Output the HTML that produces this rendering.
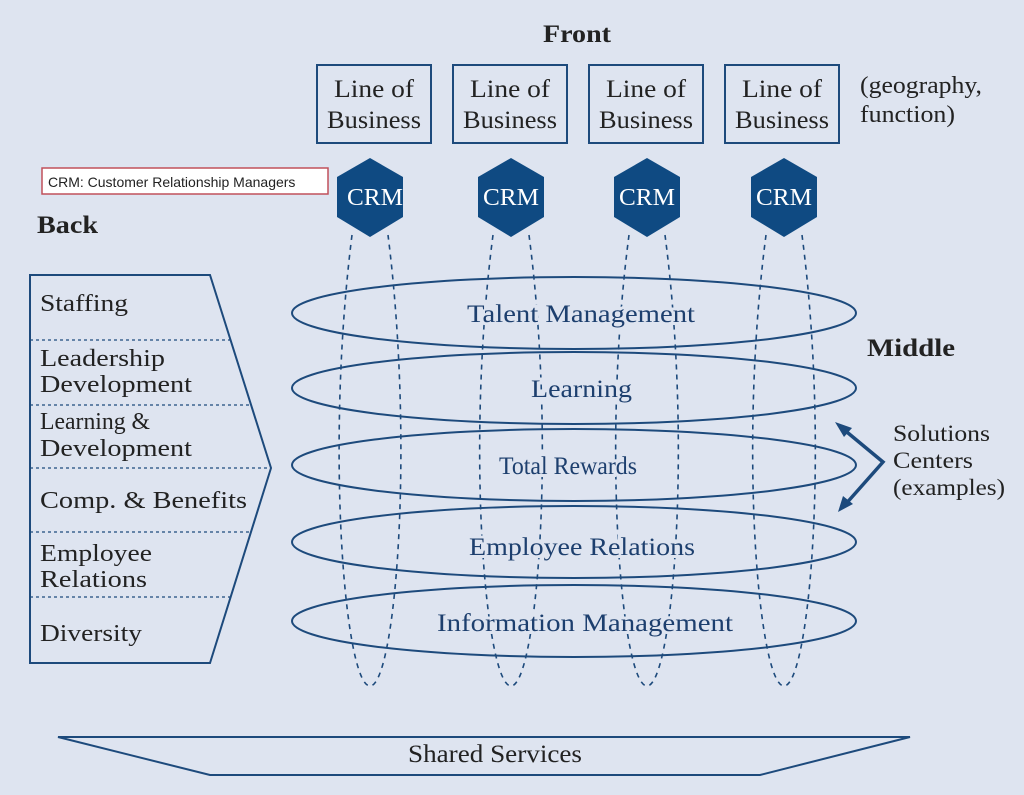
<!DOCTYPE html>
<html><head><meta charset="utf-8"><style>
html,body{margin:0;padding:0;background:#dee4f0;}
svg{display:block}
.t{font-family:"Liberation Serif",serif;fill:#1d3f6e;stroke:#dee4f0;stroke-width:6;paint-order:stroke;}
.k{font-family:"Liberation Serif",serif;fill:#222;}
</style></head><body>
<svg width="1024" height="795" viewBox="0 0 1024 795" xmlns="http://www.w3.org/2000/svg">
<rect width="1024" height="795" fill="#dee4f0"/>
<text x="543" y="42" class="k" font-size="25" font-weight="bold" textLength="68" lengthAdjust="spacingAndGlyphs">Front</text>
<text x="37" y="233" class="k" font-size="25" font-weight="bold" textLength="61" lengthAdjust="spacingAndGlyphs">Back</text>
<text x="867" y="356" class="k" font-size="25" font-weight="bold" textLength="88" lengthAdjust="spacingAndGlyphs">Middle</text>
<g fill="none" stroke="#1d4a7c" stroke-width="2">
<rect x="317" y="65" width="114" height="78"/><rect x="453" y="65" width="114" height="78"/>
<rect x="589" y="65" width="114" height="78"/><rect x="725" y="65" width="114" height="78"/>
</g>
<g class="k" font-size="25">
<text x="334" y="97" textLength="80" lengthAdjust="spacingAndGlyphs">Line of</text><text x="327" y="128" textLength="94" lengthAdjust="spacingAndGlyphs">Business</text>
<text x="470" y="97" textLength="80" lengthAdjust="spacingAndGlyphs">Line of</text><text x="463" y="128" textLength="94" lengthAdjust="spacingAndGlyphs">Business</text>
<text x="606" y="97" textLength="80" lengthAdjust="spacingAndGlyphs">Line of</text><text x="599" y="128" textLength="94" lengthAdjust="spacingAndGlyphs">Business</text>
<text x="742" y="97" textLength="80" lengthAdjust="spacingAndGlyphs">Line of</text><text x="735" y="128" textLength="94" lengthAdjust="spacingAndGlyphs">Business</text>
</g>
<text x="860" y="93" class="k" font-size="24" textLength="122" lengthAdjust="spacingAndGlyphs">(geography,</text>
<text x="860" y="122" class="k" font-size="24" textLength="95" lengthAdjust="spacingAndGlyphs">function)</text>
<rect x="42" y="168" width="286" height="26" fill="#fff" stroke="#c0505a" stroke-width="1.5"/>
<text x="48" y="187" font-family="Liberation Sans,sans-serif" font-size="14" fill="#222">CRM: Customer Relationship Managers</text>
<g fill="none" stroke="#1d4a7c" stroke-width="1.6" stroke-dasharray="5,5">
<path d="M352,235 C325,450 345,686 370,686 C395,686 415,450 388,235"/>
<path d="M493,235 C465,450 486,686 511,686 C536,686 557,450 529,235"/>
<path d="M629,235 C601,450 622,686 647,686 C672,686 693,450 665,235"/>
<path d="M766,235 C738,450 759,686 784,686 C809,686 830,450 802,235"/>
</g>
<g fill="#0f4a82">
<polygon points="370,158 403,177 403,217 370,237 337,217 337,177"/>
<polygon points="511,158 544,177 544,217 511,237 478,217 478,177"/>
<polygon points="647,158 680,177 680,217 647,237 614,217 614,177"/>
<polygon points="784,158 817,177 817,217 784,237 751,217 751,177"/>
</g>
<g font-family="Liberation Serif,serif" font-size="24" fill="#fff">
<text x="347" y="205" textLength="56" lengthAdjust="spacingAndGlyphs">CRM</text><text x="483" y="205" textLength="56" lengthAdjust="spacingAndGlyphs">CRM</text><text x="619" y="205" textLength="56" lengthAdjust="spacingAndGlyphs">CRM</text><text x="756" y="205" textLength="56" lengthAdjust="spacingAndGlyphs">CRM</text>
</g>
<g fill="none" stroke="#1d4a7c" stroke-width="2">
<ellipse cx="574" cy="313" rx="282" ry="36"/>
<ellipse cx="574" cy="388" rx="282" ry="36"/>
<ellipse cx="574" cy="465" rx="282" ry="36"/>
<ellipse cx="574" cy="542" rx="282" ry="36"/>
<ellipse cx="574" cy="621" rx="282" ry="36"/>
</g>
<g class="t" font-size="25">
<text x="467" y="322" textLength="228" lengthAdjust="spacingAndGlyphs">Talent Management</text>
<text x="531" y="397" textLength="101" lengthAdjust="spacingAndGlyphs">Learning</text>
<text x="499" y="474" textLength="138" lengthAdjust="spacingAndGlyphs">Total Rewards</text>
<text x="469" y="555" textLength="226" lengthAdjust="spacingAndGlyphs">Employee Relations</text>
<text x="437" y="631" textLength="296" lengthAdjust="spacingAndGlyphs">Information Management</text>
</g>
<polygon points="30,275 210,275 271,468 210,663 30,663" fill="none" stroke="#1d4a7c" stroke-width="2"/>
<g stroke="#1d4a7c" stroke-width="1.2" stroke-dasharray="3,3">
<line x1="30" y1="340" x2="230" y2="340"/><line x1="30" y1="405" x2="250" y2="405"/>
<line x1="30" y1="468" x2="271" y2="468"/><line x1="30" y1="532" x2="250" y2="532"/>
<line x1="30" y1="597" x2="230" y2="597"/>
</g>
<g class="k" font-size="24">
<text x="40" y="311" textLength="88" lengthAdjust="spacingAndGlyphs">Staffing</text>
<text x="40" y="366" textLength="125" lengthAdjust="spacingAndGlyphs">Leadership</text><text x="40" y="392" textLength="152" lengthAdjust="spacingAndGlyphs">Development</text>
<text x="40" y="429" textLength="110" lengthAdjust="spacingAndGlyphs">Learning &amp;</text><text x="40" y="456" textLength="152" lengthAdjust="spacingAndGlyphs">Development</text>
<text x="40" y="508" textLength="207" lengthAdjust="spacingAndGlyphs">Comp. &amp; Benefits</text>
<text x="40" y="561" textLength="112" lengthAdjust="spacingAndGlyphs">Employee</text><text x="40" y="587" textLength="107" lengthAdjust="spacingAndGlyphs">Relations</text>
<text x="40" y="641" textLength="102" lengthAdjust="spacingAndGlyphs">Diversity</text>
</g>
<g stroke="#1d4a7c" stroke-width="3.5" fill="none">
<polyline points="842,428 883,462 844,506"/>
</g>
<polygon points="835,422 852,428 844,437" fill="#1d4a7c"/>
<polygon points="838,512 843,496 853,504" fill="#1d4a7c"/>
<g class="k" font-size="23">
<text x="893" y="441" textLength="97" lengthAdjust="spacingAndGlyphs">Solutions</text><text x="893" y="468" textLength="80" lengthAdjust="spacingAndGlyphs">Centers</text><text x="893" y="495" textLength="112" lengthAdjust="spacingAndGlyphs">(examples)</text>
</g>
<polygon points="58,737 910,737 760,775 210,775" fill="none" stroke="#1d4a7c" stroke-width="2"/>
<text x="408" y="762" class="k" font-size="25" textLength="174" lengthAdjust="spacingAndGlyphs">Shared Services</text>
</svg>
</body></html>
